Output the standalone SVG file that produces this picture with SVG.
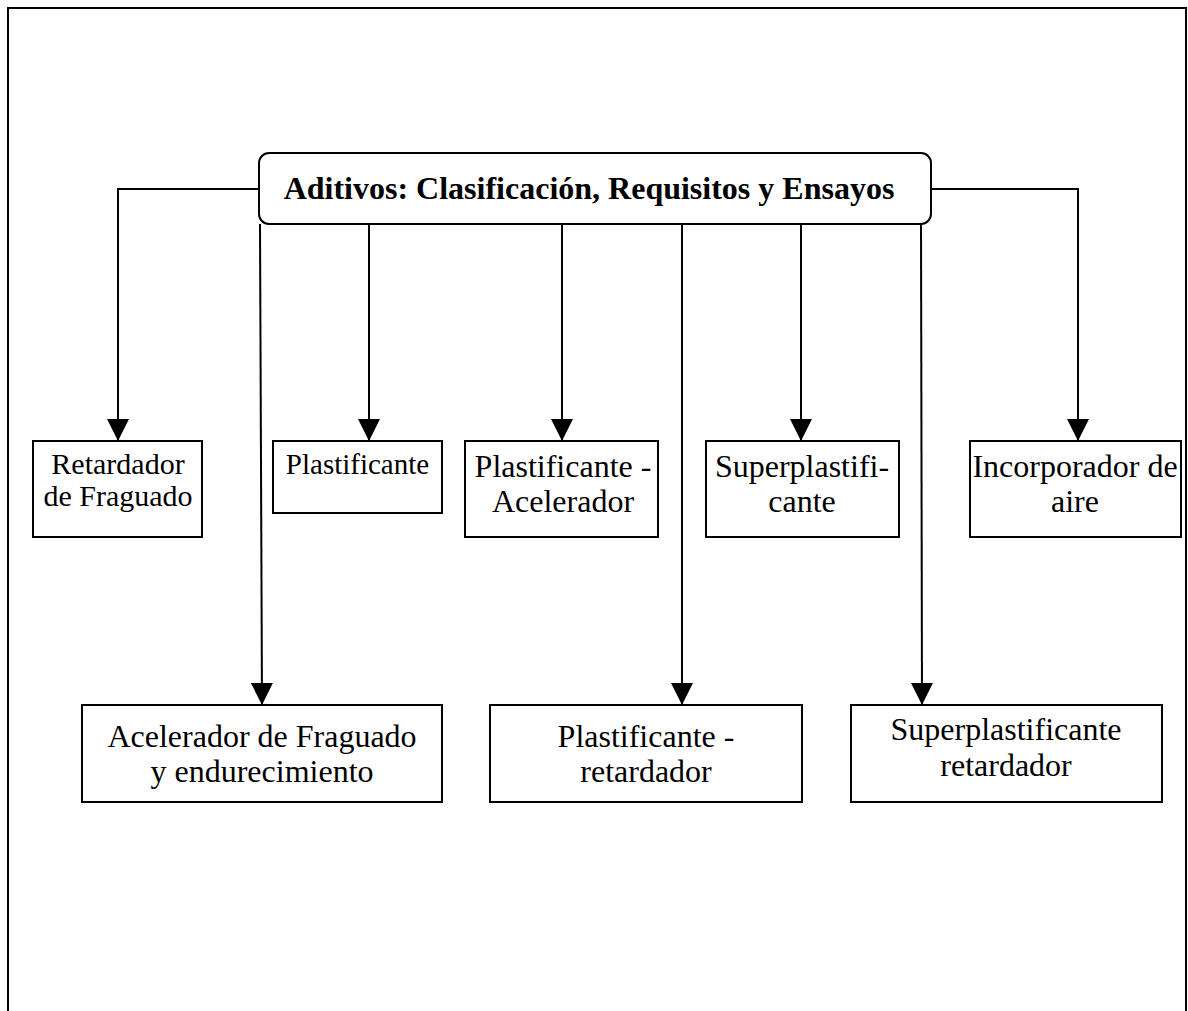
<svg xmlns="http://www.w3.org/2000/svg" width="1188" height="1011" viewBox="0 0 1188 1011">
<style>
  .box { fill: #fff; stroke: #000; stroke-width: 2; }
  .t { font-family: "Liberation Serif", "Times New Roman", serif; fill: #000; text-anchor: middle; }
  .s1 { font-size: 30px; }
  .s0 { font-size: 29px; }
  .s2 { font-size: 32px; }
  .title { font-size: 32px; font-weight: bold; }
  .con { fill: none; stroke: #000; stroke-width: 2; }
</style>
<defs>
  <marker id="arr" markerUnits="userSpaceOnUse" markerWidth="22" markerHeight="22" viewBox="0 0 20 20" refX="20" refY="10" orient="auto">
    <path d="M0,0 L20,10 L0,20 Z" fill="#000"/>
  </marker>
</defs>
<rect x="0" y="0" width="1188" height="1011" fill="#fff"/>
<path d="M8,1011 V8 H1186 V1011" fill="none" stroke="#000" stroke-width="2"/>

<g id="connectors">
  <path class="con" d="M259,189 H118 V441" marker-end="url(#arr)"/>
  <path class="con" d="M369,224 V441" marker-end="url(#arr)"/>
  <path class="con" d="M260,224 L262,705" marker-end="url(#arr)"/>
  <path class="con" d="M562,224 V441" marker-end="url(#arr)"/>
  <path class="con" d="M682,224 V705" marker-end="url(#arr)"/>
  <path class="con" d="M801,224 V441" marker-end="url(#arr)"/>
  <path class="con" d="M921,224 L922,705" marker-end="url(#arr)"/>
  <path class="con" d="M931,189 H1078 V441" marker-end="url(#arr)"/>
</g>

<g id="title">
  <rect class="box" x="259" y="153" width="672" height="71" rx="10" ry="10"/>
  <text class="t title" x="589" y="199">Aditivos: Clasificación, Requisitos y Ensayos</text>
</g>

<g id="retardador">
  <rect class="box" x="33" y="441" width="169" height="96"/>
  <text class="t s1" x="118" y="474">Retardador</text>
  <text class="t s1" x="118" y="506">de Fraguado</text>
</g>

<g id="plastificante">
  <rect class="box" x="273" y="441" width="169" height="72"/>
  <text class="t s0" x="357.5" y="474">Plastificante</text>
</g>

<g id="plastificante-acelerador">
  <rect class="box" x="465" y="441" width="193" height="96"/>
  <text class="t s2" x="563" y="477">Plastificante -</text>
  <text class="t s2" x="563" y="512">Acelerador</text>
</g>

<g id="superplastificante">
  <rect class="box" x="706" y="441" width="193" height="96"/>
  <text class="t s2" x="802" y="477">Superplastifi-</text>
  <text class="t s2" x="802" y="512">cante</text>
</g>

<g id="incorporador">
  <rect class="box" x="970" y="441" width="211" height="96"/>
  <text class="t s2" x="1075" y="477">Incorporador de</text>
  <text class="t s2" x="1075" y="512">aire</text>
</g>

<g id="acelerador">
  <rect class="box" x="82" y="705" width="360" height="97"/>
  <text class="t s2" x="262" y="747">Acelerador de Fraguado</text>
  <text class="t s2" x="262" y="782">y endurecimiento</text>
</g>

<g id="plastificante-retardador">
  <rect class="box" x="490" y="705" width="312" height="97"/>
  <text class="t s2" x="646" y="747">Plastificante -</text>
  <text class="t s2" x="646" y="782">retardador</text>
</g>

<g id="superplastificante-retardador">
  <rect class="box" x="851" y="705" width="311" height="97"/>
  <text class="t s2" x="1006" y="740">Superplastificante</text>
  <text class="t s2" x="1006" y="776">retardador</text>
</g>
</svg>
